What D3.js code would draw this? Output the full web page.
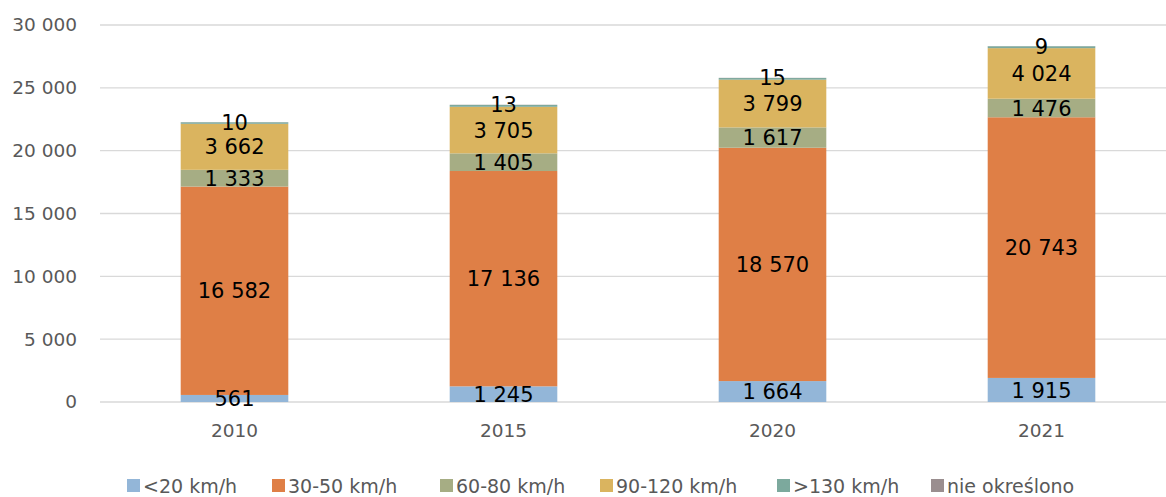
<!DOCTYPE html>
<html>
<head>
<meta charset="utf-8">
<script src="https://cdn.jsdelivr.net/npm/d3@7"></script>
<style>
  html, body { margin: 0; padding: 0; background: #fff; }
  svg { display: block; font-family: "DejaVu Sans", sans-serif; }
</style>
</head>
<body>
<svg id="chart" width="1166" height="497"></svg>
<script>
// Road accidents by speed limit at the location, selected years
const years = ["2010", "2015", "2020", "2021"];
const seriesNames = ["<20 km/h", "30-50 km/h", "60-80 km/h", "90-120 km/h", ">130 km/h", "nie określono"];
const under20 = [561, 1245, 1664, 1915];
const from30to50 = [16582, 17136, 18570, 20743];
const from60to80 = [1333, 1405, 1617, 1476];
const from90to120 = [3662, 3705, 3799, 4024];
const over130 = [120, 150, 130, 150];
const unspecified = [10, 13, 15, 9];
const labelledSeries = [true, true, true, true, false, true];
const yTicks = [0, 5000, 10000, 15000, 20000, 25000, 30000];
const colors = ["#93b6d8", "#df7f46", "#a6ad84", "#dab45f", "#7ca99d", "#9a8e8f"];

const valuesBySeries = [under20, from30to50, from60to80, from90to120, over130, unspecified];
const rows = years.map((y, i) => {
  const r = { year: y };
  seriesNames.forEach((s, k) => { r[s] = valuesBySeries[k][i]; });
  return r;
});

const svg = d3.select("#chart");
const margin = { left: 100, right: -10, top: 25, bottom: 95 };
const W = 1166, H = 497;

const x = d3.scaleBand().domain(years)
  .range([margin.left, W - margin.right])
  .paddingInner(0.6).paddingOuter(0.3);
const y = d3.scaleLinear().domain([0, 30000]).range([H - margin.bottom, margin.top]);

const fmt = v => d3.format(",")(v).replace(/,/g, " ");

// gridlines
svg.append("g").selectAll("line").data(yTicks).join("line")
  .attr("x1", margin.left).attr("x2", W)
  .attr("y1", d => y(d)).attr("y2", d => y(d))
  .attr("stroke", "#d9d9d9").attr("stroke-width", 1.3);

// y axis labels
const yAxis = d3.axisLeft(y).tickValues(yTicks).tickFormat(fmt).tickSize(0).tickPadding(0);
svg.append("g").attr("transform", `translate(77,0)`).call(yAxis)
  .call(g => g.select(".domain").remove())
  .selectAll("text").attr("font-size", 18.5).attr("fill", "#595959")
  .attr("font-family", "DejaVu Sans, sans-serif");

// x axis labels
const xAxis = d3.axisBottom(x).tickSize(0).tickPadding(0);
svg.append("g").attr("transform", `translate(0,${y(0) + 22})`).call(xAxis)
  .call(g => g.select(".domain").remove())
  .selectAll("text").attr("font-size", 18.5).attr("fill", "#595959")
  .attr("font-family", "DejaVu Sans, sans-serif");

// stacked bars
const stacked = d3.stack().keys(seriesNames)(rows);
const layers = svg.append("g").selectAll("g").data(stacked).join("g")
  .attr("fill", (d, i) => colors[i]);
layers.selectAll("rect").data(d => d).join("rect")
  .attr("x", d => x(d.data.year))
  .attr("width", x.bandwidth())
  .attr("y", d => y(d[1]))
  .attr("height", d => y(d[0]) - y(d[1]));

// value labels
const labelG = svg.append("g");
stacked.forEach((layer, k) => {
  if (!labelledSeries[k]) return;
  labelG.selectAll(null).data(layer).join("text")
    .attr("x", d => x(d.data.year) + x.bandwidth() / 2)
    .attr("y", d => y((d[0] + d[1]) / 2))
    .attr("dy", "0.36em")
    .attr("text-anchor", "middle")
    .attr("font-size", 21)
    .attr("fill", "#000")
    .text(d => fmt(d.data[layer.key]));
});

// legend
const legendX = [127, 272, 440, 600, 777, 931];
const legend = svg.append("g").attr("transform", "translate(0,486)");
seriesNames.forEach((s, i) => {
  legend.append("rect").attr("x", legendX[i]).attr("y", -7).attr("width", 13).attr("height", 13)
    .attr("fill", colors[i]);
  legend.append("text").attr("x", legendX[i] + 16).attr("y", 0).attr("dy", "0.35em")
    .attr("font-size", 19).attr("fill", "#595959").text(s);
});
</script>
</body>
</html>
